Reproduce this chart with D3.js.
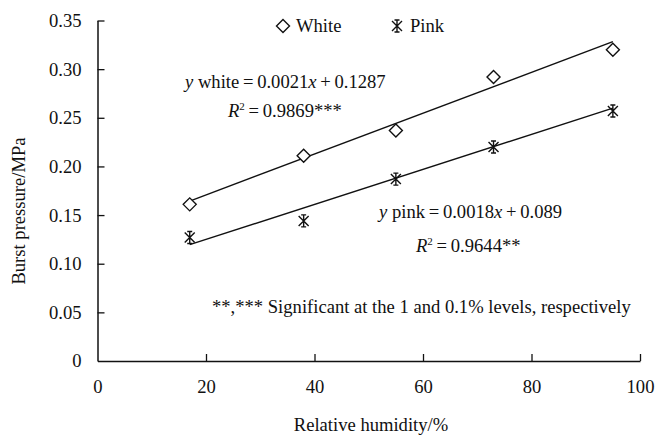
<!DOCTYPE html>
<html>
<head>
<meta charset="utf-8">
<script src="https://cdn.jsdelivr.net/npm/d3@7/dist/d3.min.js"></script>
<style>
  body { margin: 0; background: #fff; }
</style>
</head>
<body>
<div id="chart"></div>
<script>
const width = 655;
const height = 436;
const margin = {top: 20.5, right: 15, bottom: 75, left: 97.5};
const serif = "'Liberation Serif', 'Times New Roman', serif";
const fs = 18.6;

// humidity (%) and burst pressure (MPa)
const humidity = [17, 38, 55, 73, 95];
const white = [0.161, 0.211, 0.237, 0.292, 0.320];
const pink = [0.127, 0.144, 0.187, 0.220, 0.257];

// fitted lines: y = slope * x + intercept
const whiteFit = {slope: 0.0021, intercept: 0.1287};
const pinkFit = {slope: 0.0018, intercept: 0.089};

const xTicks = [0, 20, 40, 60, 80, 100];
const yTicks = [0, 0.05, 0.10, 0.15, 0.20, 0.25, 0.30, 0.35];

const svg = d3.select('#chart')
  .append('svg')
  .attr('width', width)
  .attr('height', height);

const x = d3.scaleLinear().domain([0, 100]).range([margin.left, width - margin.right]);
const y = d3.scaleLinear().domain([0, 0.35]).range([height - margin.bottom, margin.top]);

// axes, ticks pointing inward
const xAxis = svg.append('g')
  .attr('transform', 'translate(0,' + y(0) + ')')
  .call(d3.axisBottom(x).tickValues(xTicks).tickSizeInner(-7).tickSizeOuter(0).tickPadding(19)
    .tickFormat(d3.format('d')));

const yAxis = svg.append('g')
  .attr('transform', 'translate(' + x(0) + ',0)')
  .call(d3.axisLeft(y).tickValues(yTicks).tickSizeInner(-7).tickSizeOuter(0).tickPadding(16)
    .tickFormat(d => d === 0 ? '0' : d3.format('.2f')(d)));

[xAxis, yAxis].forEach(a => {
  a.attr('font-family', null).attr('font-size', null);
  a.select('.domain').attr('stroke', '#111').attr('stroke-width', 1.5);
  a.selectAll('.tick line').attr('stroke', '#111').attr('stroke-width', 1.3);
  a.selectAll('.tick text').style('font-family', serif).style('font-size', fs + 'px').attr('fill', '#111');
});
xAxis.selectAll('.tick').filter(d => d === 0).select('line').remove();
yAxis.selectAll('.tick').filter(d => d === 0).select('line').remove();

function label(px, py) {
  return svg.append('text')
    .attr('x', px)
    .attr('y', py)
    .attr('fill', '#111')
    .style('font-family', serif)
    .style('font-size', fs + 'px');
}

// axis titles
label(371, 431).attr('text-anchor', 'middle').text('Relative humidity/%');
label(0, 0)
  .attr('transform', 'translate(25,211) rotate(-90)')
  .attr('text-anchor', 'middle')
  .text('Burst pressure/MPa');

// trend lines
const fitLine = d3.line().x(d => x(d[0])).y(d => y(d[1]));
[whiteFit, pinkFit].forEach(f => {
  const ends = [humidity[0], humidity[humidity.length - 1]];
  svg.append('path')
    .attr('d', fitLine(ends.map(h => [h, f.slope * h + f.intercept])))
    .attr('fill', 'none')
    .attr('stroke', '#111')
    .attr('stroke-width', 1.4);
});

const diamond = 'M0,-6.5L6.5,0L0,6.5L-6.5,0Z';
const star = 'M-5,-5L5,5M-5,5L5,-5M0,-6L0,6M-2.5,-6L2.5,-6M-2.5,6L2.5,6';

svg.append('g').selectAll('path')
  .data(humidity.map((h, i) => [h, white[i]]))
  .enter().append('path')
  .attr('d', diamond)
  .attr('transform', d => 'translate(' + x(d[0]) + ',' + y(d[1]) + ')')
  .attr('fill', '#fff')
  .attr('stroke', '#111')
  .attr('stroke-width', 1.4);

svg.append('g').selectAll('path')
  .data(humidity.map((h, i) => [h, pink[i]]))
  .enter().append('path')
  .attr('d', star)
  .attr('transform', d => 'translate(' + x(d[0]) + ',' + y(d[1]) + ')')
  .attr('fill', 'none')
  .attr('stroke', '#111')
  .attr('stroke-width', 1.4);

// legend
const legend = [
  {label: 'White', shape: diamond, fill: '#fff', lx: 283},
  {label: 'Pink', shape: star, fill: 'none', lx: 397}
];
legend.forEach(l => {
  svg.append('path')
    .attr('d', l.shape)
    .attr('transform', 'translate(' + l.lx + ',26)')
    .attr('fill', l.fill)
    .attr('stroke', '#111')
    .attr('stroke-width', 1.4);
  label(l.lx + 13, 32).text(l.label);
});

// equations
function equation(px, py, name, slope, icpt) {
  const t = label(px, py);
  t.append('tspan').style('font-style', 'italic').text('y');
  t.append('tspan').text(' ' + name + '\u2009=\u20090.' + slope);
  t.append('tspan').style('font-style', 'italic').text('x');
  t.append('tspan').text('\u2009+\u2009' + icpt);
}
function rsq(px, py, val) {
  const t = label(px, py);
  t.append('tspan').style('font-style', 'italic').text('R');
  t.append('tspan').attr('dy', -7).style('font-size', '11px').text('2');
  t.append('tspan').attr('dy', 7).text('\u2009=\u2009' + val);
}
equation(185, 88, 'white', '0021', '0.1287');
rsq(228, 117, '0.9869***');
equation(379, 218, 'pink', '0018', '0.089');
rsq(416, 252, '0.9644**');

label(212, 313).text('**,*** Significant at the 1 and 0.1% levels, respectively');
</script>
</body>
</html>
